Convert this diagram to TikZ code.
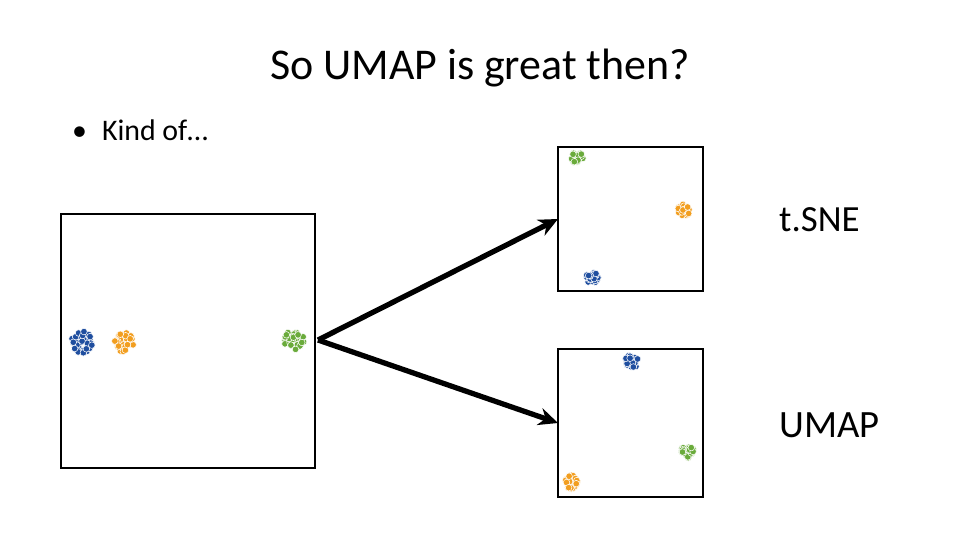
\documentclass[tikz,border=0pt]{standalone}
\usepackage{fontspec}
\setmainfont{Carlito}
\usetikzlibrary{arrows.meta}
\definecolor{cblue}{HTML}{1F4E9F}
\definecolor{corange}{HTML}{F29E1F}
\definecolor{cgreen}{HTML}{6AAB3B}
\newcommand\myclust[4]{% x y radius color
  \pgfmathsetseed{#1#2}
  \foreach \i in {1,...,30}{
    \pgfmathsetmacro\ang{rnd*360}
    \pgfmathsetmacro\rr{sqrt(rnd)*#3}
    \fill[#4,draw=white,line width=0.3pt] ({#1+\rr*cos(\ang)},{#2+\rr*sin(\ang)}) circle[radius=3.3];
  }}
\begin{document}
\begin{tikzpicture}[x=0.02cm,y=-0.02cm,
  frame/.style={draw=black,line width=1.3pt,fill=white},
  arr/.style={line width=3pt,-{Stealth[length=11pt,width=10pt]}}]
\useasboundingbox (0,0) rectangle (960,540);
\node[font=\fontsize{25}{30}\selectfont] (title) at (480,68) {So UMAP is great then?};
\node[anchor=west,font=\fontsize{17}{20}\selectfont] (bul) at (66,130) {•\hspace{0.5em}Kind of…};
\draw[frame] (61,214) rectangle (315,468);
\draw[frame] (558,147) rectangle (703,291);
\draw[frame] (558,349) rectangle (703,497);
\coordinate (src) at (318,340);
\coordinate (t1) at (558,219);
\coordinate (t2) at (558,423);
\draw[arr] (src) -- (t1);
\draw[arr] (src) -- (t2);
\node[anchor=west,font=\fontsize{21}{26}\selectfont] (tsne) at (773,220) {t.SNE};
\node[anchor=west,font=\fontsize{22}{26}\selectfont] (umap) at (773,425) {UMAP};
\myclust{82}{342}{11}{cblue}
\myclust{124}{342}{10}{corange}
\myclust{294}{340}{10}{cgreen}
\myclust{577}{158}{6}{cgreen}
\myclust{684}{210}{6}{corange}
\myclust{592}{278}{6}{cblue}
\myclust{632}{361}{7}{cblue}
\myclust{687}{452}{7}{cgreen}
\myclust{572}{482}{7}{corange}
\end{tikzpicture}
\end{document}
